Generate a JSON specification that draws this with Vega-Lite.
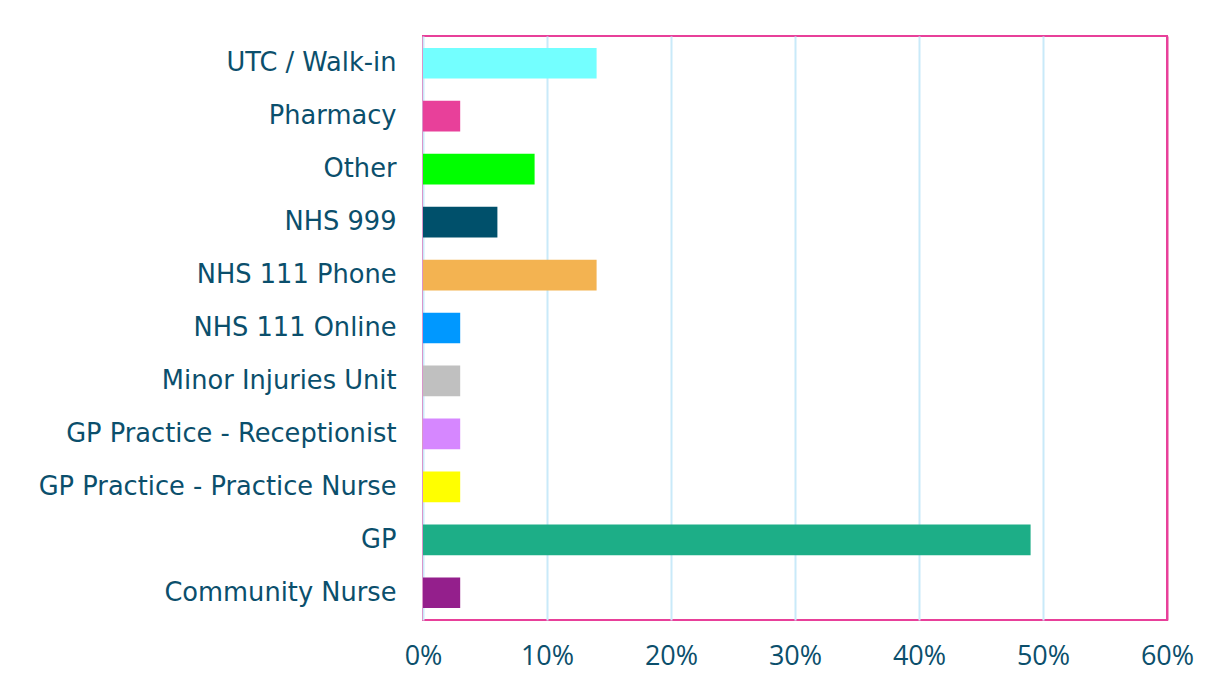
{
  "$schema": "https://vega.github.io/schema/vega-lite/v6.json",
  "width": 744,
  "height": 584,
  "autosize": "none",
  "padding": {"left": 423, "top": 36, "right": 48, "bottom": 67},
  "background": "white",
  "data": {
    "values": [
      {"source": "UTC / Walk-in", "share": 0.14},
      {"source": "Pharmacy", "share": 0.03},
      {"source": "Other", "share": 0.09},
      {"source": "NHS 999", "share": 0.06},
      {"source": "NHS 111 Phone", "share": 0.14},
      {"source": "NHS 111 Online", "share": 0.03},
      {"source": "Minor Injuries Unit", "share": 0.03},
      {"source": "GP Practice - Receptionist", "share": 0.03},
      {"source": "GP Practice - Practice Nurse", "share": 0.03},
      {"source": "GP", "share": 0.49},
      {"source": "Community Nurse", "share": 0.03}
    ]
  },
  "mark": {"type": "bar"},
  "encoding": {
    "y": {
      "field": "source",
      "type": "nominal",
      "sort": ["UTC / Walk-in", "Pharmacy", "Other", "NHS 999", "NHS 111 Phone", "NHS 111 Online", "Minor Injuries Unit", "GP Practice - Receptionist", "GP Practice - Practice Nurse", "GP", "Community Nurse"],
      "scale": {"paddingInner": 0.42, "paddingOuter": 0.225},
      "axis": {
        "title": null,
        "domain": false,
        "ticks": false,
        "grid": false,
        "labelFont": "DejaVu Sans",
        "labelFontSize": 25.7,
        "labelColor": "#0B4F6C",
        "labelPadding": 27,
        "labelLimit": 420
      }
    },
    "x": {
      "field": "share",
      "type": "quantitative",
      "scale": {"domain": [0, 0.6], "nice": false},
      "axis": {
        "title": null,
        "format": ".0%",
        "values": [0, 0.1, 0.2, 0.3, 0.4, 0.5, 0.6],
        "domain": false,
        "ticks": false,
        "grid": true,
        "gridColor": {"condition": {"test": "datum.value >= 0.59", "value": "#E8409A"}, "value": "#C9EAF9"},
        "gridWidth": 2,
        "labelFlush": false,
        "labelFont": "Open Sans",
        "labelFontSize": 27,
        "labelColor": "#0B4F6C",
        "labelPadding": 23
      }
    },
    "color": {
      "field": "source",
      "type": "nominal",
      "scale": {
        "domain": ["UTC / Walk-in", "Pharmacy", "Other", "NHS 999", "NHS 111 Phone", "NHS 111 Online", "Minor Injuries Unit", "GP Practice - Receptionist", "GP Practice - Practice Nurse", "GP", "Community Nurse"],
        "range": ["#73FFFF", "#E8409A", "#00FF00", "#00506B", "#F3B351", "#0098FF", "#C0C0C0", "#D687FF", "#FFFF00", "#1DAE87", "#941F8C"]
      },
      "legend": null
    }
  },
  "config": {
    "view": {"stroke": "#E8409A", "strokeWidth": 2}
  }
}
